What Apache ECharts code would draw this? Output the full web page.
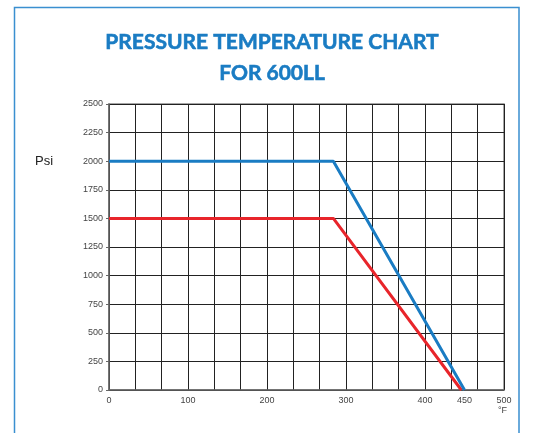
<!DOCTYPE html>
<html>
<head>
<meta charset="utf-8">
<script src="https://cdn.jsdelivr.net/npm/echarts@6/dist/echarts.min.js"></script>
<style>
  html, body { margin: 0; padding: 0; background: #fff; }
  #main { width: 541px; height: 433px; }
</style>
</head>
<body>
<div id="main"></div>
<script>
// data
var xTickLabels = [0, 100, 200, 300, 400, 450, 500];
var yTickLabels = [0, 250, 500, 750, 1000, 1250, 1500, 1750, 2000, 2250, 2500];
var blueTemp = [0, 284, 450];
var bluePsi = [2000, 2000, 0];
var redTemp = [0, 284, 446];
var redPsi = [1500, 1500, 0];

function pairs(xs, ys) {
    return xs.map(function (x, i) { return [x, ys[i]]; });
}

var myChart = echarts.init(document.getElementById('main'));

myChart.setOption({
    animation: false,
    title: {
        text: 'PRESSURE TEMPERATURE CHART\nFOR 600LL',
        left: 267,
        top: 22,
        textAlign: 'center',
        textStyle: {
            color: '#1a7cc3',
            fontFamily: 'Lato',
            fontWeight: 'bold',
            fontSize: 21,
            lineHeight: 31,
            textBorderColor: '#1a7cc3',
            textBorderWidth: 0.6
        }
    },
    graphic: [
        {
            type: 'rect',
            shape: { x: 14.5, y: 7.5, width: 504.5, height: 440 },
            style: { fill: 'none', stroke: '#3a8fd0', lineWidth: 1.5 },
            silent: true
        },
        {
            type: 'text',
            left: 35,
            top: 155,
            style: { text: 'Psi', fontFamily: 'Liberation Sans', fontSize: 13, fill: '#222' }
        },
        {
            type: 'text',
            left: 498,
            top: 406,
            style: { text: '°F', fontFamily: 'Liberation Sans', fontSize: 9, fill: '#444' }
        }
    ],
    grid: {
        left: 109,
        right: 37,
        top: 104,
        bottom: 43,
        show: true,
        borderColor: '#888',
        borderWidth: 1.5
    },
    xAxis: [
        {
            type: 'value',
            min: 0,
            max: 500,
            interval: 100,
            axisLine: { show: true, lineStyle: { color: '#666', width: 1.5 } },
            axisTick: { show: false },
            minorTick: { show: false, splitNumber: 3 },
            splitLine: { show: true, lineStyle: { color: '#222', width: 1 } },
            minorSplitLine: { show: true, lineStyle: { color: '#222', width: 1 } },
            axisLabel: {
                margin: 6,
                fontFamily: 'Liberation Sans',
                fontSize: 9,
                color: '#444',
                formatter: function (v) {
                    return xTickLabels.indexOf(v) >= 0 ? String(v) : '';
                }
            }
        },
        {
            type: 'value',
            position: 'bottom',
            min: 0,
            max: 500,
            interval: 50,
            axisLine: { show: false },
            axisTick: { show: false },
            splitLine: { show: false },
            axisLabel: {
                margin: 6,
                fontFamily: 'Liberation Sans',
                fontSize: 9,
                color: '#444',
                formatter: function (v) {
                    return (v === 450 && xTickLabels.indexOf(v) >= 0) ? String(v) : '';
                }
            }
        }
    ],
    yAxis: {
        type: 'value',
        min: 0,
        max: 2500,
        interval: 250,
        axisLine: { show: true, lineStyle: { color: '#666', width: 1.5 } },
        axisTick: { show: true, length: 3, lineStyle: { color: '#666' } },
        splitLine: { show: true, lineStyle: { color: '#222', width: 1 } },
        axisLabel: {
            margin: 6,
            fontFamily: 'Liberation Sans',
            fontSize: 9,
            color: '#444',
            formatter: function (v) {
                return yTickLabels.indexOf(v) >= 0 ? String(v) : '';
            }
        }
    },
    series: [
        {
            name: '1500',
            type: 'line',
            xAxisIndex: 0,
            data: pairs(redTemp, redPsi),
            symbol: 'none',
            lineStyle: { color: '#e8252b', width: 3 }
        },
        {
            name: '2000',
            type: 'line',
            xAxisIndex: 0,
            data: pairs(blueTemp, bluePsi),
            symbol: 'none',
            lineStyle: { color: '#1a7cc3', width: 3 }
        }
    ]
});
</script>
</body>
</html>
